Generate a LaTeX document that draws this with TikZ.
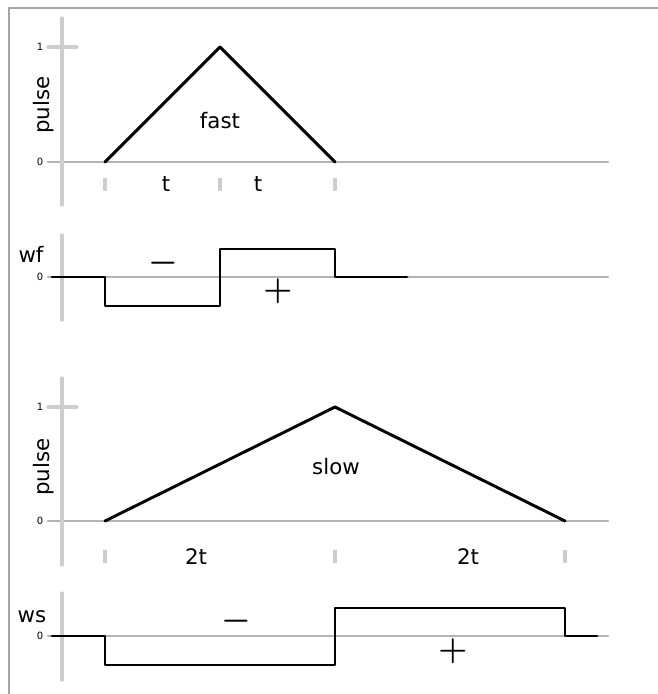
\documentclass[tikz,border=0pt]{standalone}
\usepackage{fontspec}
\setmainfont{DejaVu Sans}
\definecolor{axisgray}{RGB}{205,205,205}
\definecolor{zerogray}{RGB}{180,180,180}
\definecolor{framegray}{RGB}{165,165,165}
\begin{document}
\begin{tikzpicture}[line cap=round,line join=round,x=.75pt,y=-.75pt,
	axis/.style={color=axisgray,line width=2.4pt},
	zero/.style={color=zerogray,line width=2pt},
	tickmk/.style={color=axisgray,line width=2.4pt,line cap=butt},
	sig/.style={color=black,line width=2.2pt},
	lbl/.style={inner sep=0pt,font=\fontsize{16}{18}\selectfont},
	num/.style={inner sep=0pt,font=\fontsize{7.5}{9}\selectfont},
	sgn/.style={inner sep=0pt,font=\fontsize{29}{32}\selectfont\boldmath}]
		\useasboundingbox (0,0) rectangle (658,694);
		\draw[color=framegray,line width=1.5pt,line cap=butt] (8.5,694)--(8.5,7.5)--(658,7.5);
		% fast pulse
		\draw[zero] (48,162)--(608,162);
		\draw[axis] (62,18)--(62,205);
		\draw[axis] (48,47)--(77,47);
		\node[num] (onef) at (40,47) {1};
		\node[num] (zerof) at (40,162) {0};
		\node[lbl,rotate=90] (pulsef) at (44,105) {pulse};
		\draw[sig] (105,162)--(220,47)--(335,162);
		\node[lbl] (fast) at (220,121) {fast};
		\foreach \x in {105,220,335}
			\draw[tickmk] (\x,178)--(\x,191);
		\node[lbl] (tone) at (166,184) {t};
		\node[lbl] (ttwo) at (258,184) {t};
		% wf
		\draw[zero] (48,277)--(608,277);
		\draw[axis] (62,235)--(62,320);
		\node[lbl] (wf) at (31,254) {wf};
		\node[num] (zerowf) at (40,277) {0};
		\draw[sig] (52,277) -| (105,306) -| (220,249) -| (335,277) -- (407,277);
		\node[sgn] (minuswf) at (163,263) {$-$};
		\node[sgn] (pluswf) at (278,291) {$+$};
		% slow pulse
		\draw[zero] (48,521)--(608,521);
		\draw[axis] (62,378)--(62,565);
		\draw[axis] (48,407)--(77,407);
		\node[num] (ones) at (40,407) {1};
		\node[num] (zeros) at (40,521) {0};
		\node[lbl,rotate=90] (pulses) at (44,467) {pulse};
		\draw[sig] (105,521)--(335,407)--(565,521);
		\node[lbl] (slow) at (336,467) {slow};
		\foreach \x in {105,335,565}
			\draw[tickmk] (\x,550)--(\x,563);
		\node[lbl] (tlong) at (196,557) {2t};
		\node[lbl] (tlongb) at (468,557) {2t};
		% ws
		\draw[zero] (48,636)--(608,636);
		\draw[axis] (62,593)--(62,680);
		\node[lbl] (ws) at (32,617) {ws};
		\node[num] (zerows) at (40,636) {0};
		\draw[sig] (52,636) -| (105,665) -| (335,608) -| (565,636) -- (597,636);
		\node[sgn] (minusws) at (236,621) {$-$};
		\node[sgn] (plusws) at (453,651) {$+$};
	\end{tikzpicture}
\end{document}
